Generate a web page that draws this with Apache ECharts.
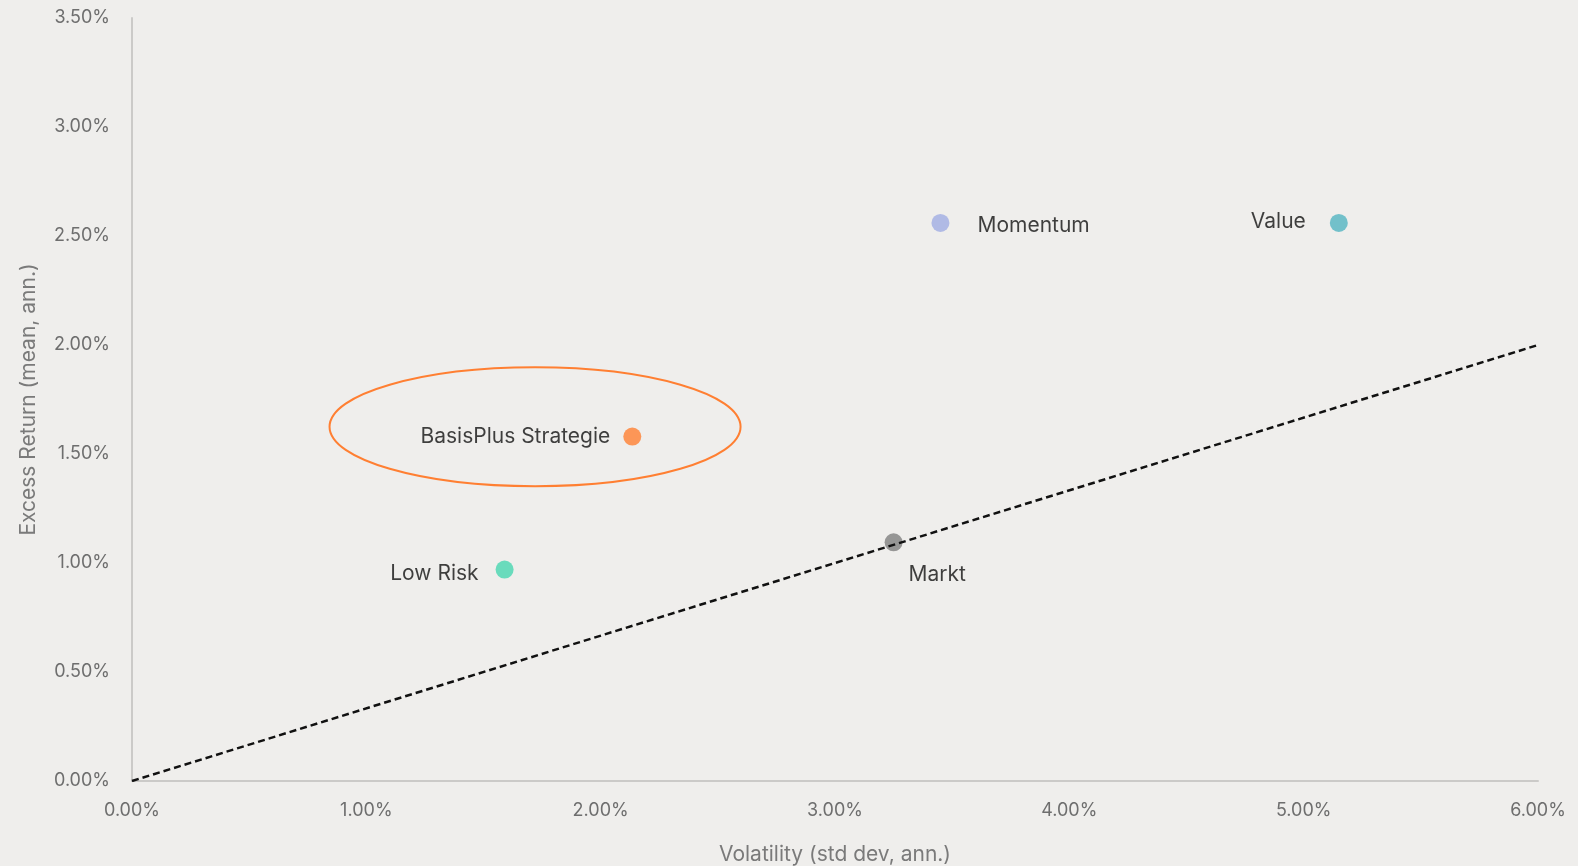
<!DOCTYPE html>
<html>
<head>
<meta charset="utf-8">
<script src="https://cdn.jsdelivr.net/npm/echarts@6/dist/echarts.min.js"></script>
<style>
html,body{margin:0;padding:0;background:#efeeec;overflow:hidden;width:100%;height:100%;}
#chart{width:100vw;height:100vh;}
</style>
</head>
<body>
<div id="chart"></div>
<script>
// Data (values in percent)
const pointNames = ['Momentum', 'Value', 'BasisPlus Strategie', 'Low Risk', 'Markt'];
const volatility = [3.45, 5.15, 2.135, 1.59, 3.25];
const excessReturn = [2.56, 2.56, 1.58, 0.97, 1.095];
const pointColors = ['#a0ace4', '#52b4c2', '#ff7f32', '#47d6b0', '#808080'];
const labelSides = ['right', 'left', 'left', 'left', 'bottomRight'];
const marketLineX = [0, 6];
const marketLineY = [0, 2];
// highlight ellipse around BasisPlus: centre x, centre y, radius x, radius y (percent units)
const highlightEllipse = [1.72, 1.625, 0.877, 0.273];
const xTicks = [0, 1, 2, 3, 4, 5, 6];
const yTicks = [0, 0.5, 1, 1.5, 2, 2.5, 3, 3.5];

const FONT = 'Inter';
const chart = echarts.init(document.getElementById('chart'));

const labelCfg = {
  right: { position: 'right', distance: 28, offset: [0, 3] },
  left: { position: 'left', distance: 24, offset: [0, 0] },
  bottomRight: { position: 'right', distance: 6, offset: [0, 32] }
};

const scatterData = pointNames.map((n, i) => {
  const c = labelCfg[labelSides[i]];
  return {
    name: n,
    value: [volatility[i], excessReturn[i]],
    itemStyle: { color: pointColors[i] },
    label: { show: true, position: c.position, distance: c.distance, offset: c.offset }
  };
});
// specific tweaks
scatterData[1].label.distance = 24; scatterData[1].label.offset = [0, -1];
scatterData[2].label.distance = 13; scatterData[2].label.offset = [0, 0];
scatterData[3].label.distance = 17; scatterData[3].label.offset = [0, 4];

chart.setOption({
  backgroundColor: '#efeeec',
  animation: false,
  grid: { left: 132, right: 40, top: 18, bottom: 85, outerBoundsMode: 'none', containLabel: false },
  xAxis: {
    type: 'value', min: 0, max: 6, interval: 1,
    name: 'Volatility (std dev, ann.)', nameLocation: 'middle', nameGap: 63,
    nameTextStyle: { color: '#7a7a7a', fontSize: 21, fontFamily: FONT },
    axisLine: { show: true, lineStyle: { color: '#cbcac8', width: 2 } },
    axisTick: { show: false },
    splitLine: { show: false },
    axisLabel: { color: '#6e6e6e', fontSize: 18, fontFamily: FONT, margin: 21,
      formatter: v => v.toFixed(2) + '%' }
  },
  yAxis: {
    type: 'value', min: 0, max: 3.5, interval: 0.5,
    name: 'Excess Return (mean, ann.)', nameLocation: 'middle', nameGap: 93,
    nameTextStyle: { color: '#7a7a7a', fontSize: 21, fontFamily: FONT },
    axisLine: { show: true, lineStyle: { color: '#cbcac8', width: 2 } },
    axisTick: { show: false },
    splitLine: { show: false },
    axisLabel: { color: '#6e6e6e', fontSize: 18, fontFamily: FONT, margin: 22,
      formatter: v => v.toFixed(2) + '%' }
  },
  series: [
    {
      type: 'custom',
      coordinateSystem: 'cartesian2d',
      silent: true,
      z: 1,
      data: [highlightEllipse],
      renderItem: function (params, api) {
        const c = api.coord([api.value(0), api.value(1)]);
        const s = api.size([api.value(2), api.value(3)]);
        return {
          type: 'ellipse',
          shape: { cx: c[0], cy: c[1], rx: s[0], ry: s[1] },
          style: { fill: 'none', stroke: '#ff7f32', lineWidth: 2 }
        };
      }
    },
    {
      type: 'scatter',
      symbolSize: 18,
      z: 2,
      data: scatterData,
      label: { color: '#111111', fontSize: 21, fontFamily: FONT, formatter: '{b}' }
    },
    {
      type: 'line',
      z: 3,
      symbol: 'none',
      silent: true,
      data: marketLineX.map((x, i) => [x, marketLineY[i]]),
      lineStyle: { color: '#111', width: 2.5, type: [7, 4] }
    }
  ]
});
window.addEventListener('resize', () => chart.resize());
</script>
</body>
</html>
